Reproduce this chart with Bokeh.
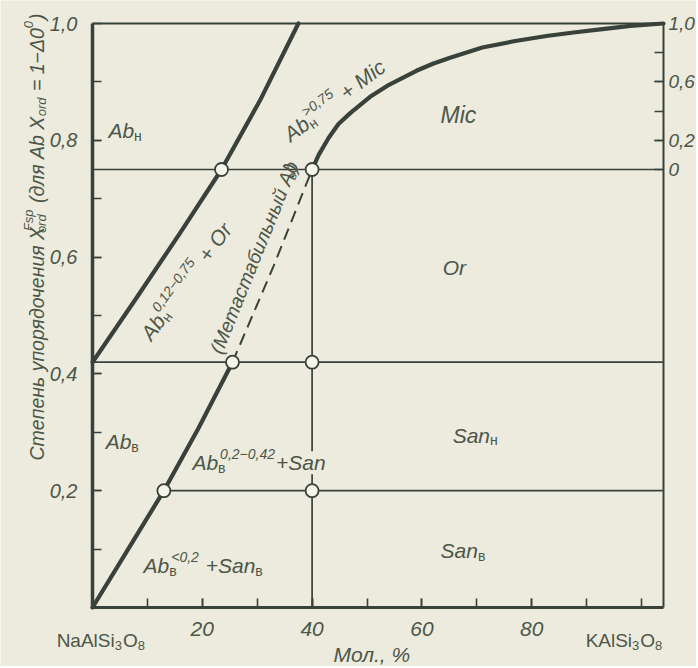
import math
from bokeh.plotting import figure
from bokeh.models import Range1d, LinearAxis, FixedTicker, Label
from bokeh.embed import file_html
from bokeh.resources import INLINE

# ------------------------------------------------------------------ data
x_ticks = [20, 40, 60, 80]
x_tick_labels = ["20", "40", "60", "80"]
x_minor = [10, 20, 30, 40, 50, 60, 70, 80, 90, 100]
y_ticks = [0.2, 0.4, 0.6, 0.8, 1.0]
y_tick_labels = ["0,2", "0,4", "0,6", "0,8", "1,0"]
y_minor = [0.1, 0.2, 0.3, 0.4, 0.5, 0.6, 0.7, 0.8, 0.9]
r_ticks = [0, 0.2, 0.6, 1.0]
r_tick_labels = ["0", "0,2", "0,6", "1,0"]
r_minor = [0.2, 0.4, 0.6, 0.8]

X_END = 104.0          # right edge of the diagram (mol. %)
R_ZERO_LEVEL = 0.75    # right scale: 0 at X_ord = 0.75, 1 at X_ord = 1.0

# Ab(high) + Or boundary
ab_or_x = [0, 8, 16, 23.5, 30.5, 37.5]
ab_or_y = [0.42, 0.53, 0.642, 0.75, 0.868, 1.0]
# Ab(low) + San boundary
ab_san_x = [0, 6.5, 13.0, 19.3, 25.5]
ab_san_y = [0.0, 0.1, 0.2, 0.307, 0.42]
# metastable Ab(low) (dashed)
meta_x = [25.5, 33.0, 40.0]
meta_y = [0.42, 0.585, 0.75]
# Ab(high) + Mic boundary
mic_x = [40, 41.2, 43, 44.8, 47, 50.5, 54, 59, 62, 65, 71, 77, 83, 88, 92.5, 98, X_END]
mic_y = [0.75, 0.775, 0.804, 0.828, 0.847, 0.874, 0.895, 0.919, 0.931, 0.941, 0.959,
         0.970, 0.979, 0.985, 0.99, 0.996, 1.0]
# horizontal transition levels
levels = [0.75, 0.42, 0.2]
level_from = [0, 0, 13.0]
# vertical boundary
vert_x = 40
vert_top = 0.75
# invariant points
pts_x = [23.5, 40, 25.5, 40, 13.0, 40]
pts_y = [0.75, 0.75, 0.42, 0.42, 0.2, 0.2]

# ------------------------------------------------------------------ layout / style
BG = "#ecebdd"
INK = "#38423a"
TXT = "#4c5649"
FONT = "Liberation Sans"

W_PX, H_PX = 696, 666
X0_PX, PX_PER_X = 92.0, 5.49      # where x = 0 sits, pixels per mol.%
Y0_PX, PX_PER_Y = 607.0, 584.0    # where X_ord = 0 sits, pixels per unit

x_lo, x_hi = -X0_PX / PX_PER_X, (W_PX - X0_PX) / PX_PER_X
y_lo, y_hi = -(H_PX - Y0_PX) / PX_PER_Y, Y0_PX / PX_PER_Y

p = figure(width=W_PX, height=H_PX, x_range=Range1d(x_lo, x_hi), y_range=Range1d(y_lo, y_hi),
           output_backend="svg", toolbar_location=None,
           x_axis_location=None, y_axis_location=None,
           min_border_left=0, min_border_right=0, min_border_top=0, min_border_bottom=0)
p.background_fill_color = BG
p.border_fill_color = BG
p.grid.visible = False
p.outline_line_color = None


def style_axis(ax, ticks, minor, labels, standoff, width, size="20px"):
    ax.ticker = FixedTicker(ticks=ticks, minor_ticks=minor)
    ax.major_label_overrides = dict(zip(ticks, labels))
    ax.major_tick_in = 9
    ax.major_tick_out = 0
    ax.minor_tick_in = 9
    ax.minor_tick_out = 0
    ax.major_tick_line_color = INK
    ax.minor_tick_line_color = INK
    ax.major_tick_line_width = 1.6
    ax.minor_tick_line_width = 1.6
    ax.axis_line_color = INK
    ax.axis_line_width = width
    ax.major_label_text_font = FONT
    ax.major_label_text_font_style = "italic"
    ax.major_label_text_font_size = size
    ax.major_label_text_color = TXT
    ax.major_label_standoff = standoff


xa = LinearAxis(fixed_location=0, bounds=(0, X_END))
style_axis(xa, x_ticks, x_minor, x_tick_labels, 14, 3, "21px")
p.add_layout(xa, "below")

ya = LinearAxis(fixed_location=0, bounds=(0, 1.0))
style_axis(ya, y_ticks, y_minor, y_tick_labels, 15, 3.5)
ya.major_label_text_baseline = "top"
p.add_layout(ya, "left")

p.extra_y_ranges = {"r": Range1d((y_lo - R_ZERO_LEVEL) / (1 - R_ZERO_LEVEL),
                                 (y_hi - R_ZERO_LEVEL) / (1 - R_ZERO_LEVEL))}
ra = LinearAxis(y_range_name="r", fixed_location=X_END,
                bounds=((0 - R_ZERO_LEVEL) / (1 - R_ZERO_LEVEL), 1.0))
style_axis(ra, r_ticks, r_minor, r_tick_labels, 5, 2, "19px")
p.add_layout(ra, "right")

ta = LinearAxis(fixed_location=1.0, bounds=(0, X_END))
style_axis(ta, [], [], [], 0, 2.2)
p.add_layout(ta, "above")

# ------------------------------------------------------------------ lines
p.segment(x0=level_from, y0=levels, x1=[X_END] * len(levels), y1=levels,
          line_color=INK, line_width=1.7)
p.segment(x0=[vert_x], y0=[0], x1=[vert_x], y1=[vert_top], line_color=INK, line_width=1.7)
p.line(meta_x, meta_y, line_color=INK, line_width=2, line_dash="12 7")
for xs, ys in [(ab_or_x, ab_or_y), (ab_san_x, ab_san_y), (mic_x, mic_y)]:
    p.line(xs, ys, line_color=INK, line_width=4.2, line_cap="round", line_join="round")
p.scatter(pts_x, pts_y, marker="circle", size=13, fill_color="#f6f5ec",
          line_color=INK, line_width=1.8)

# ------------------------------------------------------------------ rich text
W = {
    "0": .556, "1": .556, "2": .556, "3": .556, "4": .556, "5": .556, "6": .556, "7": .556,
    "8": .556, "9": .556, ",": .278, ".": .278, "-": .333, "−": .584, "+": .584, "<": .584,
    ">": .584, "=": .584, " ": .278, "(": .333, ")": .333, "%": .889, "A": .667, "b": .556,
    "O": .778, "r": .333, "M": .833, "i": .222, "c": .5, "S": .667, "a": .556, "n": .556,
    "X": .667, "F": .611, "s": .5, "p": .556, "o": .556, "d": .556, "l": .222, "K": .667,
    "N": .722, "Δ": .668, "С": .722, "т": .417, "е": .556, "п": .552, "н": .552, "ь": .521,
    "у": .5, "о": .556, "р": .556, "я": .542, "д": .573, "ч": .521, "и": .556, "М": .833,
    "а": .556, "с": .5, "б": .563, "л": .552, "ы": .708, "й": .556, "в": .531,
}


def tw(s, size):
    return sum(W.get(ch, 0.55) for ch in s) * size


def rich(parts, x, y, angle_deg=0.0, align="left", size=21, style="italic"):
    a = math.radians(angle_deg)
    ca, sa = math.cos(a), math.sin(a)
    small = round(size * 0.66)
    items = []
    adv = 0.0
    for part in parts:
        kind = part[0]
        opts = part[-1] if isinstance(part[-1], dict) else {}
        if kind == "t":
            text = part[1]
            lead = len(text) - len(text.lstrip(" "))
            adv += lead * W[" "] * size
            core = text.strip(" ")
            items.append((core, adv, 0.0, size, opts.get("style", style), opts.get("bg")))
            adv += tw(core, size)
        elif kind == "^":
            items.append((part[1], adv, size * 0.42, small, opts.get("style", style), None))
            adv += tw(part[1], small) + 1
        elif kind == "_":
            items.append((part[1], adv, -size * 0.25, small, opts.get("style", style), None))
            adv += tw(part[1], small) + 1
        elif kind == "_^":
            items.append((part[1], adv, -size * 0.25, small, opts.get("sub_style", style), None))
            items.append((part[2], adv + 2, size * 0.42, small, opts.get("style", style), None))
            adv += max(tw(part[1], small), tw(part[2], small) + 2) + 1
    start = -adv / 2 if align == "center" else 0.0
    for text, a0, shift, fs, st, bg in items:
        d = start + a0
        lab = Label(x=x, y=y, x_offset=d * ca - shift * sa, y_offset=d * sa + shift * ca,
                    text=text, angle=a, text_align="left", text_baseline="alphabetic",
                    text_font=FONT, text_font_style=st, text_font_size=f"{fs}px",
                    text_color=TXT)
        if bg:
            lab.background_fill_color = BG
            lab.background_fill_alpha = 1.0
        p.add_layout(lab)


UP = {"style": "normal"}
SUB_UP = {"sub_style": "normal"}

# field names
rich([("t", "Ab"), ("_", "н", UP)], 2.9, 0.817)
rich([("t", "Ab"), ("_", "в", UP)], 2.4, 0.284)
rich([("t", "Ab"), ("_^", "в", "<0,2", SUB_UP), ("t", " +San"), ("_", "в", UP)], 9.3, 0.072)
rich([("t", "Ab"), ("_^", "в", "0,2−0,42", SUB_UP), ("t", "+San", {"bg": True})], 18.2, 0.248)
rich([("t", "Mic")], 63.4, 0.844, size=23)
rich([("t", "Or")], 63.8, 0.582)
rich([("t", "San"), ("_", "н", UP)], 65.6, 0.295)
rich([("t", "San"), ("_", "в", UP)], 63.4, 0.098)
rich([("t", "Ab"), ("_^", "н", "0,12−0,75", SUB_UP), ("t", " + Or")], 9.65, 0.462, 54)
rich([("t", "(Метастабильный Ab"), ("_", "в", UP), ("t", ")")], 22.4, 0.4366, 68, size=19.5)
rich([("t", "Ab"), ("_^", "н", ">0,75", SUB_UP), ("t", " + Mic")], 35.3, 0.806, 37)

# axis titles and end-member names
rich([("t", "Степень упорядочения X"), ("_^", "ord", "Fsp"), ("t", " (для Ab X"),
      ("_", "ord"), ("t", " = 1−Δ0"), ("^", "0"), ("t", ")")], -10.2, 0.2517, 90, size=19.5)
rich([("t", "Мол., %")], 50.9, -0.080, align="center")
rich([("t", "NaAlSi"), ("_", "3"), ("t", "O"), ("_", "8")], 1.6, -0.057,
     align="center", size=19, style="normal")
rich([("t", "KAlSi"), ("_", "3"), ("t", "O"), ("_", "8")], 96.9, -0.057,
     align="center", size=19, style="normal")

open("out.html", "w").write(file_html(p, INLINE))
